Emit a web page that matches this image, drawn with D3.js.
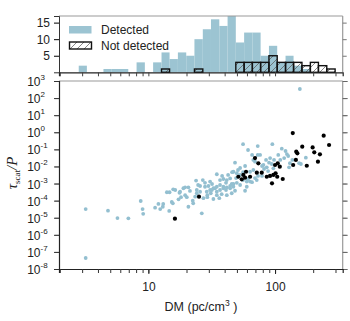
<!DOCTYPE html>
<html>
<head>
<meta charset="utf-8">
<script src="https://cdn.jsdelivr.net/npm/d3@7"></script>
<style>
  body { margin: 0; background: #fff; }
  text { font-family: "Liberation Sans", Arial, sans-serif; fill: #222; }
</style>
</head>
<body>
<div id="chart"></div>
<script>
// histogram bins (DM, log spaced) and counts
var binEdges = [2.08, 2.42, 2.82, 3.27, 3.80, 4.42, 5.14, 5.97, 6.94, 8.07, 9.38, 10.9, 12.7, 14.7, 17.1, 19.9, 23.1, 26.9, 31.2, 36.3, 42.2, 49.0, 57.0, 66.2, 76.9, 89.5, 104, 121, 140, 163, 190, 220, 256, 298, 346];
var detectedCounts = [0,0,2,0,0,1,1,1,0,3,0,3,6,4,6,5,10,13,16,14,17,9,12,12,5,8,3,5,2,1,0,0,0,0];
var notDetectedCounts = [0,0,0,0,0,0,0,0,0,0,0,0,1,0,0,0,1,0,0,0,0,3,3,3,3,5,3,3,3,2,3,2,1,0];

// scatter: detected
var detDM = [3.2, 3.2, 4.8, 5.7, 6.95, 8.7, 9.0, 9.1, 11.3, 12.0, 13.1, 13.0, 12.4, 14.0, 14.7, 15.3, 15.6, 14.6, 16.3, 17.6,
  17.3, 18.1, 19.5, 20.7, 19.5, 20.1, 22.4, 22.6, 20.7, 26.4, 27.2, 29.2, 32.6, 36.3, 23.4, 24.1, 25.6, 23.8, 26.9, 30.7,
  34.7, 36.8, 39.1, 41.6, 44.2, 46.9, 48.3, 49.9, 53.0, 59.8, 63.5, 67.4, 15.7, 17.8, 18.9, 24.1, 25.6, 28.0, 28.9, 30.7,
  32.6, 34.7, 36.8, 39.1, 41.6, 44.2, 46.9, 53.0, 58.0, 45.8, 51.0, 55.9, 49.2, 61.2, 65.8, 69.5, 73.4, 78.9, 81.9, 88.1,
  78.9, 84.9, 91.4, 98.2, 110, 118, 127, 106, 65.9, 61.2, 55.9, 73.0, 95.2, 113, 121, 124, 73, 76.2, 67.4, 69.5,
  89.7, 94.2, 137, 131, 155, 129, 80.9, 86.0, 97.0, 157, 175, 160, 29.8, 31.7, 33.6, 34.7, 39.1, 41.0, 44.2, 46.9,
  48.3, 58.0, 49.9, 63.5, 71.7, 29.2, 31.1, 34.7, 37.9, 41.6, 45.5, 36.8, 45.5, 53.0, 59.8, 31.8, 28.0, 41.0, 55.9, 42.6,
  38.2, 24.7, 21.3];
var detTau = [3.2e-5, 4.4e-8, 2.6e-5, 9.6e-6, 9.2e-6, 9.5e-5, 3.2e-5, 1.7e-5, 3.9e-5, 6.4e-5, 6.4e-5, 4.4e-5, 3.2e-5, 3.1e-4, 3.1e-4, 8.3e-5, 7.0e-5, 2.5e-5, 4.2e-4, 2.9e-4,
  1.2e-4, 1.6e-4, 6.0e-4, 6.0e-4, 2.1e-4, 1.6e-4, 9.9e-5, 7.0e-5, 4.4e-5, 1.8e-5, 1.4e-4, 1.6e-4, 1.25e-4, 1.4e-4, 1.7e-4, 2.7e-4, 3.3e-4, 1.5e-3, 1.6e-3, 1.3e-3,
  3.5e-3, 1.6e-3, 1.85e-3, 1.6e-3, 2.0e-3, 4.9e-3, 0.0166, 4.0e-3, 3.2e-3, 1.3e-3, 4.9e-3, 6.2e-3, 4.6e-4, 3.3e-4, 5.3e-4, 4.2e-4, 7.2e-4, 6.5e-4, 3.3e-4, 4.2e-4,
  5.3e-4, 6.5e-4, 4.2e-4, 5.3e-4, 6.0e-4, 7.2e-4, 9.4e-4, 8.1e-3, 0.0106, 4.6e-3, 6.2e-3, 4.6e-3, 2.1e-3, 1.85e-3, 1.2e-3, 2.1e-3, 2.8e-3, 2.8e-3, 7.1e-3, 5.4e-3,
  0.0106, 0.024, 0.031, 0.024, 0.024, 0.031, 0.041, 0.047, 0.047, 0.092, 0.2, 0.156, 0.2, 0.11, 0.08, 0.053, 0.047, 0.047, 0.024, 0.019,
  0.0166, 0.0139, 0.024, 0.0155, 0.0155, 8.9e-3, 0.0122, 8.9e-3, 7.8e-3, 340, 0.0325, 0.0139, 7.2e-4, 4.2e-4, 5.3e-4, 3.3e-4, 6.5e-4, 4.2e-4, 5.3e-4, 6.5e-4,
  3.8e-4, 3.8e-4, 1.1e-3, 1.3e-3, 1.6e-3, 2.1e-4, 2.7e-4, 2.1e-4, 2.4e-4, 2.1e-4, 2.7e-4, 8.2e-4, 9.4e-4, 8.2e-4, 6.5e-4, 9.4e-4, 1.1e-3, 1.1e-3, 1.6e-3, 3.2e-3,
  2.8e-3, 8.2e-4, 3.7e-4];

// scatter: not detected
var ndDM = [138, 242, 267, 164, 198, 147, 150, 204, 226, 69.5, 146, 218, 73.8, 105, 100, 109, 139, 178, 59, 71.8,
  78.5, 101, 51.3, 56.2, 63.5, 54.6, 58, 86, 91.3, 97, 104, 115, 94.6, 25.1, 16.2];
var ndTau = [0.9, 0.63, 0.18, 0.143, 0.13, 0.073, 0.059, 0.067, 0.051, 0.031, 0.024, 0.019, 0.0153, 0.0153, 0.0122, 0.0097, 0.0122, 0.011, 0.0049, 0.0043,
  0.0043, 0.004, 0.0025, 0.0032, 0.0025, 0.00177, 0.0022, 0.0025, 0.0028, 0.0032, 0.0025, 0.00185, 0.00103, 1.7e-4, 8.8e-6];

// tick labels
var yExponents = [-8, -7, -6, -5, -4, -3, -2, -1, 0, 1, 2, 3];
var xTickLabels = [10, 100];
var histTicks = [5, 10, 15];
var legendLabels = ["Detected", "Not detected"];

var blue = "#9cc4d2";
var dotBlue = "#93bfd0";

var W = 350, H = 321;
var left = 59, right = 342.7;

var svg = d3.select("#chart").append("svg")
    .attr("width", W)
    .attr("height", H);

// hatch for the "not detected" bars
var defs = svg.append("defs");
var pat = defs.append("pattern")
    .attr("id", "hatch")
    .attr("patternUnits", "userSpaceOnUse")
    .attr("width", 7).attr("height", 7);
pat.append("path")
    .attr("d", "M-1,8 L8,-1 M-4,4 L4,-4 M3,11 L11,3")
    .attr("stroke", "#555").attr("stroke-width", 0.7);

// shared log x scale
var x = d3.scaleLog().domain([1.97, 342]).range([left, right]);
var xMinor = x.ticks();

// ---------- histogram panel ----------
var hTop = 16, hBot = 72.3;
var yh = d3.scaleLinear().domain([0, 17]).range([hBot, hTop]);

var bins = detectedCounts.map(function(c, i) {
  return { x0: binEdges[i], x1: binEdges[i + 1], det: c, nd: notDetectedCounts[i] };
});

svg.append("g").selectAll("rect")
    .data(bins.filter(function(d) { return d.det > 0; }))
  .enter().append("rect")
    .attr("x", function(d) { return x(d.x0); })
    .attr("width", function(d) { return x(d.x1) - x(d.x0); })
    .attr("y", function(d) { return yh(d.det); })
    .attr("height", function(d) { return yh(0) - yh(d.det); })
    .attr("fill", blue);

svg.append("g").selectAll("rect")
    .data(bins.filter(function(d) { return d.nd > 0; }))
  .enter().append("rect")
    .attr("x", function(d) { return x(d.x0); })
    .attr("width", function(d) { return x(d.x1) - x(d.x0); })
    .attr("y", function(d) { return yh(d.nd); })
    .attr("height", function(d) { return yh(0) - yh(d.nd); })
    .attr("fill", "url(#hatch)")
    .attr("stroke", "#111").attr("stroke-width", 1.4);

// frame of hist
svg.append("line").attr("x1", left).attr("x2", right).attr("y1", hTop).attr("y2", hTop)
    .attr("stroke", "#999").attr("stroke-width", 1.2);
svg.append("line").attr("x1", right).attr("x2", right).attr("y1", hTop).attr("y2", hBot)
    .attr("stroke", "#999").attr("stroke-width", 1.2);

var hl = svg.append("g").attr("transform", "translate(" + left + ",0)")
    .call(d3.axisLeft(yh).tickValues(histTicks).tickSize(5).tickPadding(4));
hl.select(".domain").attr("stroke", "#333");
hl.selectAll("text").style("font-size", "12px").attr("fill", "#222");

var hr = svg.append("g").attr("transform", "translate(" + right + ",0)")
    .call(d3.axisRight(yh).tickValues(histTicks).tickSize(4).tickFormat(""));
hr.select(".domain").remove();
hr.selectAll("line").attr("stroke", "#777");

var hb = svg.append("g").attr("transform", "translate(0," + hBot + ")")
    .call(d3.axisBottom(x).tickValues(xMinor).tickSize(4).tickFormat(""));
hb.select(".domain").attr("stroke", "#222").attr("stroke-width", 1.2);
hb.selectAll("line").attr("stroke", "#444");

// legend
var lg = svg.append("g");
lg.append("rect").attr("x", 69).attr("y", 26).attr("width", 22.5).attr("height", 7.5).attr("fill", blue);
lg.append("rect").attr("x", 69.5).attr("y", 42).attr("width", 22).attr("height", 7)
    .attr("fill", "url(#hatch)").attr("stroke", "#111").attr("stroke-width", 1.4);
lg.selectAll("text").data(legendLabels).enter().append("text")
    .attr("x", 101)
    .attr("y", function(d, i) { return 34.2 + i * 15.5; })
    .style("font-size", "12px")
    .text(function(d) { return d; });

// ---------- scatter panel ----------
var mTop = 81, mBot = 269;
var y = d3.scaleLog().domain([1e-8, 1e3]).range([mBot, mTop]);
var yAll = y.ticks();
var yMajor = yExponents.map(function(e) { return Math.pow(10, e); });

svg.append("line").attr("x1", left).attr("x2", right).attr("y1", mTop).attr("y2", mTop)
    .attr("stroke", "#999").attr("stroke-width", 1.2);
svg.append("line").attr("x1", right).attr("x2", right).attr("y1", mTop).attr("y2", mBot)
    .attr("stroke", "#999").attr("stroke-width", 1.2);

// left minor ticks, then majors with labels
var lm = svg.append("g").attr("transform", "translate(" + left + ",0)")
    .call(d3.axisLeft(y).tickValues(yAll).tickSize(4).tickFormat(""));
lm.select(".domain").remove();
lm.selectAll("line").attr("stroke", "#999");

var la = svg.append("g").attr("transform", "translate(" + left + ",0)")
    .call(d3.axisLeft(y).tickValues(yMajor).tickSize(5).tickFormat(""));
la.select(".domain").attr("stroke", "#222").attr("stroke-width", 1.2);
la.selectAll("line").attr("stroke", "#333");

var yl = svg.append("g");
yExponents.forEach(function(e) {
  yl.append("text")
      .attr("x", 40.5)
      .attr("y", y(Math.pow(10, e)) + 5)
      .attr("text-anchor", "end")
      .style("font-size", "12px")
      .text("10");
  yl.append("text")
      .attr("x", 40.5)
      .attr("y", y(Math.pow(10, e)) - 1)
      .style("font-size", "8px")
      .text(e);
});

var rm = svg.append("g").attr("transform", "translate(" + right + ",0)")
    .call(d3.axisRight(y).tickValues(yAll).tickSize(4).tickFormat(""));
rm.select(".domain").remove();
rm.selectAll("line").attr("stroke", "#888");
var ra = svg.append("g").attr("transform", "translate(" + right + ",0)")
    .call(d3.axisRight(y).tickValues(yMajor).tickSize(5).tickFormat(""));
ra.select(".domain").remove();
ra.selectAll("line").attr("stroke", "#666");

var xb = svg.append("g").attr("transform", "translate(0," + mBot + ")")
    .call(d3.axisBottom(x).tickValues(xMinor).tickSize(4).tickFormat(""));
xb.select(".domain").attr("stroke", "#222").attr("stroke-width", 1.2);
xb.selectAll("line").attr("stroke", "#333");
var xl = svg.append("g").attr("transform", "translate(0," + mBot + ")")
    .call(d3.axisBottom(x).tickValues(xTickLabels).tickSize(5).tickPadding(8)
      .tickFormat(function(d) { return d; }));
xl.select(".domain").remove();
xl.selectAll("line").attr("stroke", "#222");
xl.selectAll("text").style("font-size", "12px").attr("fill", "#222");

// points
svg.append("g").selectAll("circle")
    .data(detDM.map(function(d, i) { return [d, detTau[i]]; }))
  .enter().append("circle")
    .attr("cx", function(d) { return x(d[0]); })
    .attr("cy", function(d) { return y(d[1]); })
    .attr("r", 1.9)
    .attr("fill", dotBlue);

svg.append("g").selectAll("circle")
    .data(ndDM.map(function(d, i) { return [d, ndTau[i]]; }))
  .enter().append("circle")
    .attr("cx", function(d) { return x(d[0]); })
    .attr("cy", function(d) { return y(d[1]); })
    .attr("r", 2.1)
    .attr("fill", "#000");

// axis titles
var xt = svg.append("text")
    .attr("x", 201).attr("y", 311)
    .attr("text-anchor", "middle")
    .style("font-size", "12.5px");
xt.append("tspan").text("DM (pc/cm");
xt.append("tspan").attr("dy", -5).style("font-size", "8.5px").text("3");
xt.append("tspan").attr("dy", 5).text(" )");

var yt = svg.append("text")
    .attr("transform", "translate(17,173) rotate(-90)")
    .attr("text-anchor", "middle")
    .style("font-family", "'Liberation Serif', 'DejaVu Serif', serif")
    .style("font-style", "italic")
    .style("font-size", "15px");
yt.append("tspan").text("τ");
yt.append("tspan").attr("dy", 3).style("font-size", "9px").style("font-style", "normal").text("scat");
yt.append("tspan").attr("dy", -3).text("/P");
</script>
</body>
</html>
